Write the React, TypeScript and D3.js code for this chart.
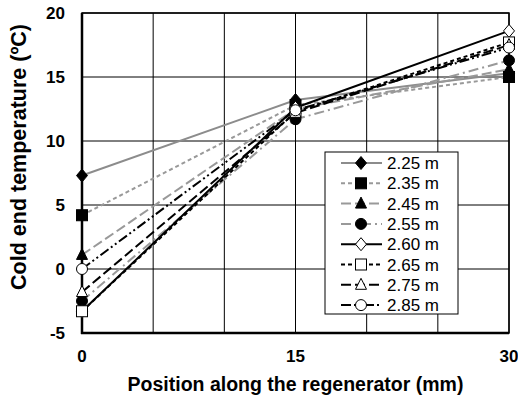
import React from "react";
import * as d3 from "d3";

const W = 518;
const H = 397;
const M = { top: 13, right: 9, bottom: 64, left: 82 };

const positions = [0, 15, 30];
const xTicks = [0, 15, 30];
const xGrid = [0, 5, 10, 15, 20, 25, 30];
const yTicks = [-5, 0, 5, 10, 15, 20];

const labels = ["2.25 m", "2.35 m", "2.45 m", "2.55 m", "2.60 m", "2.65 m", "2.75 m", "2.85 m"];
const t225 = [7.3, 13.2, 15.3];
const t235 = [4.2, 12.8, 15.0];
const t245 = [1.1, 12.5, 15.6];
const t255 = [-2.5, 11.7, 16.3];
const t260 = [-3.3, 12.6, 18.6];
const t265 = [-3.3, 12.3, 17.7];
const t275 = [-1.8, 12.2, 17.5];
const t285 = [0.0, 12.4, 17.3];
const seriesValues = [t225, t235, t245, t255, t260, t265, t275, t285];

const colors = ["#8c8c8c", "#999", "#999", "#999", "#000", "#000", "#000", "#000"];
const dashes = ["", "4,3", "10,4", "10,4,2,4", "", "4,3", "10,4", "10,3,2,3,2,3"];
const shapes = ["diamond", "square", "triangle", "circle", "diamond", "square", "triangle", "circle"];
const filled = [true, true, true, true, false, false, false, false];

const FONT = "'Liberation Sans', Arial, sans-serif";

function Marker({ shape, fill, x, y }: { shape: string; fill: boolean; x: number; y: number }) {
  const f = fill ? "#000" : "#fff";
  const s = 5.5;
  if (shape === "diamond")
    return <path d={`M${x},${y - s - 1}L${x + s},${y}L${x},${y + s + 1}L${x - s},${y}Z`} fill={f} stroke="#000" strokeWidth={1} />;
  if (shape === "square")
    return <rect x={x - s} y={y - s} width={2 * s} height={2 * s} fill={f} stroke="#000" strokeWidth={1} />;
  if (shape === "triangle")
    return <path d={`M${x},${y - s - 1}L${x + s},${y + s - 1}L${x - s},${y + s - 1}Z`} fill={f} stroke="#000" strokeWidth={1} />;
  return <circle cx={x} cy={y} r={s} fill={f} stroke="#000" strokeWidth={1} />;
}

export default function App() {
  const x = d3.scaleLinear().domain([0, 30]).range([M.left, W - M.right]);
  const y = d3.scaleLinear().domain([-5, 20]).range([H - M.bottom, M.top]);
  const line = d3
    .line<number>()
    .x((_, i) => x(positions[i]))
    .y((d) => y(d));

  const lx = 325, ly = 152, lw = 133, lh = 162;

  return (
    <svg width={W} height={H} style={{ position: "absolute", left: 0, top: 0, background: "#fff" }} fontFamily={FONT}>
      {/* grid */}
      {xGrid.map((v) => (
        <line key={"gx" + v} x1={x(v)} x2={x(v)} y1={y(20)} y2={y(-5)} stroke="#000" strokeWidth={1} />
      ))}
      {yTicks.map((v) => (
        <line key={"gy" + v} x1={x(0)} x2={x(30)} y1={y(v)} y2={y(v)} stroke="#000" strokeWidth={1} />
      ))}
      <rect x={x(0)} y={y(20)} width={x(30) - x(0)} height={y(-5) - y(20)} fill="none" stroke="#000" strokeWidth={1.5} />
      <line x1={x(0)} x2={x(0)} y1={y(20)} y2={y(-5) + 1} stroke="#000" strokeWidth={2.5} />
      <line x1={x(0) - 1} x2={x(30)} y1={y(-5)} y2={y(-5)} stroke="#000" strokeWidth={2.5} />

      {/* series lines */}
      {seriesValues.map((vals, i) => (
        <path key={"l" + i} d={line(vals) || ""} fill="none" stroke={colors[i]} strokeWidth={2} strokeDasharray={dashes[i]} />
      ))}
      {seriesValues.map((vals, i) =>
        vals.map((v, j) => <Marker key={"m" + i + "-" + j} shape={shapes[i]} fill={filled[i]} x={x(positions[j])} y={y(v)} />)
      )}

      {/* ticks */}
      {yTicks.map((v) => (
        <text key={"ty" + v} x={x(0) - 17} y={y(v)} dy="0.36em" textAnchor="end" fontSize={17} fontWeight="bold">
          {v}
        </text>
      ))}
      {xTicks.map((v) => (
        <text key={"tx" + v} x={x(v)} y={y(-5) + 29} textAnchor="middle" fontSize={17} fontWeight="bold">
          {v}
        </text>
      ))}
      <text x={(x(0) + x(30)) / 2} y={391} textAnchor="middle" fontSize={19.5} fontWeight="bold">
        Position along the regenerator (mm)
      </text>
      <text transform={`translate(26,157) rotate(-90)`} textAnchor="middle" fontSize={21.5} fontWeight="bold">
        Cold end temperature (ºC)
      </text>

      {/* legend */}
      <rect x={lx} y={ly} width={lw} height={lh} fill="#fff" stroke="#000" strokeWidth={1} />
      {labels.map((lab, i) => {
        const yy = ly + 11 + i * 20.3;
        return (
          <g key={"lg" + i}>
            <line x1={lx + 16} x2={lx + 57} y1={yy} y2={yy} stroke={colors[i]} strokeWidth={2} strokeDasharray={dashes[i]} />
            <Marker shape={shapes[i]} fill={filled[i]} x={lx + 36} y={yy} />
            <text x={lx + 62} y={yy} dy="0.36em" fontSize={17}>
              {lab}
            </text>
          </g>
        );
      })}
    </svg>
  );
}
